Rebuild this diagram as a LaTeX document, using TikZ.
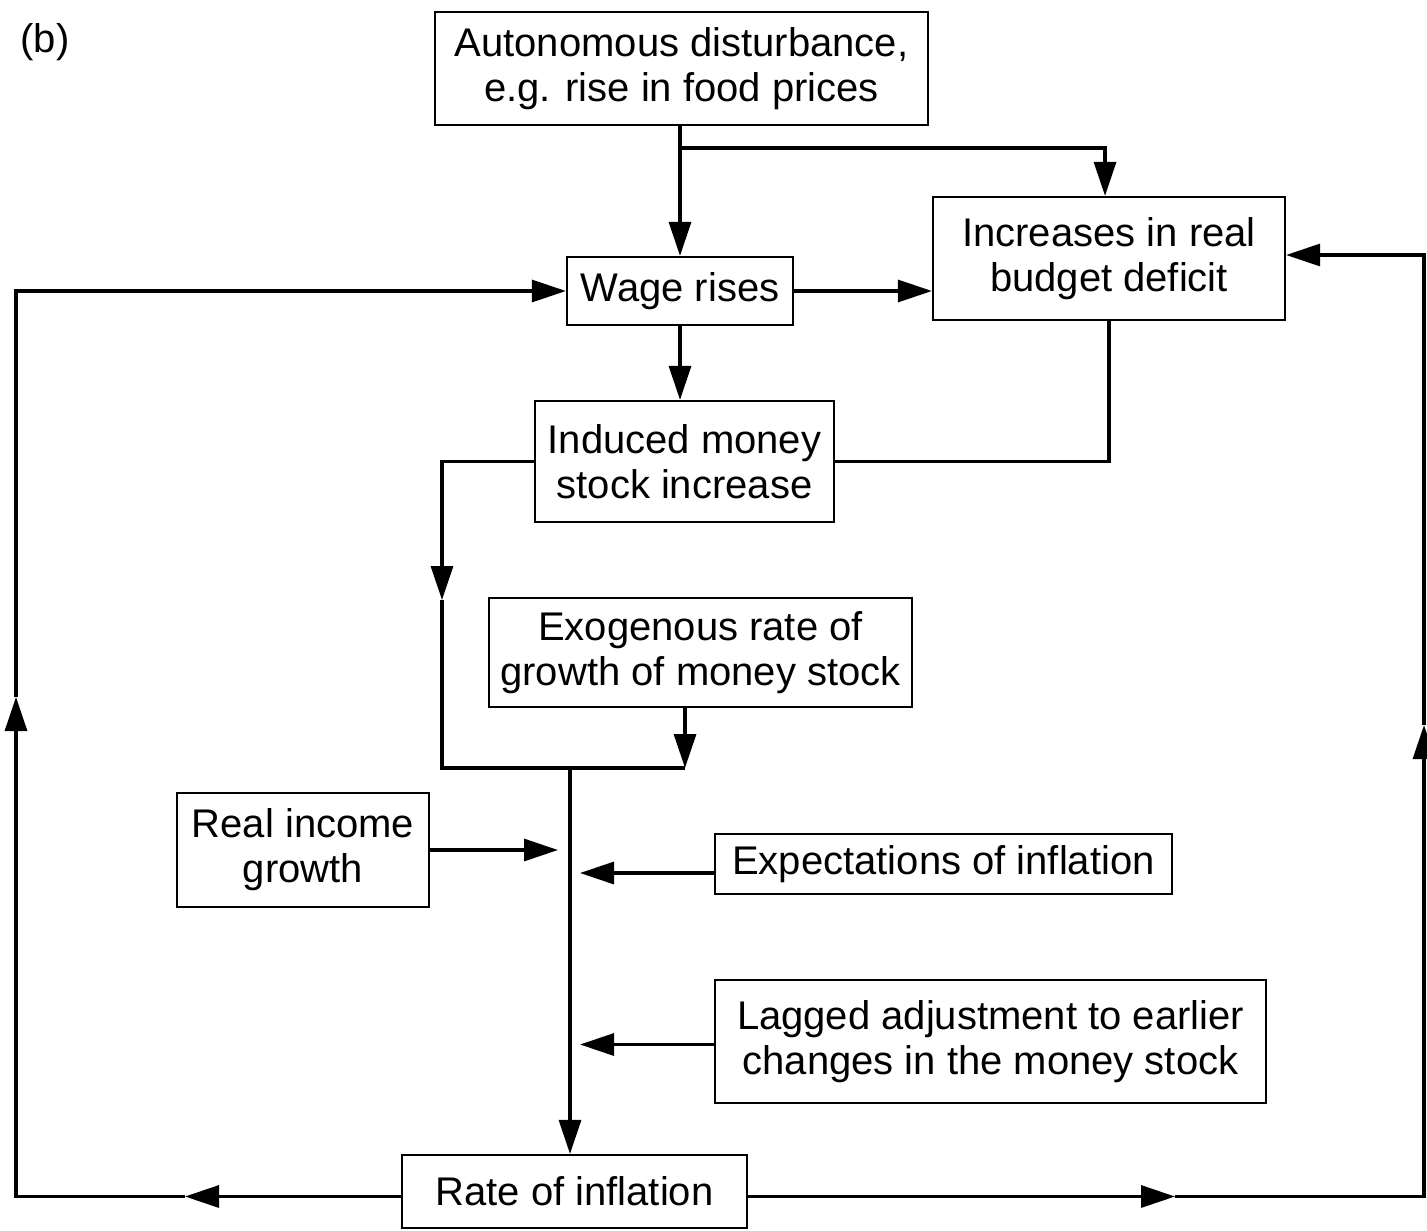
\documentclass[tikz,border=0pt]{standalone}
\usepackage{fontspec}
\setmainfont{Liberation Sans}
\usetikzlibrary{arrows.meta,calc}
\begin{document}
\begin{tikzpicture}[x=0.5pt,y=-0.5pt,
  box/.style={draw,line width=1.1pt,inner sep=0pt,align=center,font=\fontsize{20}{22.5}\selectfont},
  conn/.style={line width=1.6pt},
  arr/.style={conn,-{Triangle[length=17pt,width=11pt]}},
]
\useasboundingbox (0,0) rectangle (1427,1230);
\node[font=\fontsize{20}{22.5}\selectfont] (lbl) at (45,42) {(b)};
\node[box,minimum width=246.5pt,minimum height=56.5pt] (auto) at (681.5,68.5) {Autonomous disturbance,\\e.g. rise in food prices};
\node[box,minimum width=176pt,minimum height=61.5pt] (budget) at (1109,258.5) {Increases in real\\budget deficit};
\node[box,minimum width=113pt,minimum height=34pt] (wage) at (680,291) {Wage rises};
\node[box,minimum width=149.5pt,minimum height=60.5pt] (induced) at (684.5,461.5) {Induced money\\stock increase};
\node[box,minimum width=211.5pt,minimum height=54.5pt] (exog) at (700.5,652.5) {Exogenous rate of\\growth of money stock};
\node[box,minimum width=126pt,minimum height=57pt] (realinc) at (303,850) {Real income\\growth};
\node[box,minimum width=228.5pt,minimum height=30pt] (expect) at (943.5,864) {Expectations of inflation};
\node[box,minimum width=275.5pt,minimum height=61.5pt] (lagged) at (990.5,1041.5) {Lagged adjustment to earlier\\changes in the money stock};
\node[box,minimum width=172.5pt,minimum height=36.5pt] (rate) at (574.5,1191.5) {Rate of inflation};

% top
\draw[arr] (auto.south -| wage.north) -- (wage.north);
\coordinate (br) at (680,148);
\draw[arr] (br) -| ([xshift=-2pt]budget.north);
\draw[arr] (wage.east) -- (wage.east -| budget.west);
\draw[arr] (wage.south) -- (wage.south |- induced.north);
\draw[conn] (budget.south) |- (induced.east);

% junction
\coordinate (j1) at (442,768);
\coordinate (j2) at (685,768);
\coordinate (jt) at (570,768);
\coordinate (dm) at (442,600);
\draw[arr] (induced.west) -| (dm);
\draw[conn] (dm) -- (j1) -- (j2);
\draw[arr] ([xshift=-7.75pt]exog.south) -- (j2);
\draw[arr] (jt) -- (jt |- rate.north);
\draw[arr,shorten >=6pt] (realinc.east) -- (realinc.east -| jt);
\draw[arr,shorten >=5pt] ([yshift=-4.5pt]expect.west) -- ([yshift=-4.5pt]expect.west -| jt);
\draw[arr,shorten >=5pt] ([yshift=-1.5pt]lagged.west) -- ([yshift=-1.5pt]lagged.west -| jt);

% left loop
\coordinate (lb) at (185,1196.5);
\coordinate (lc1) at (16,1196.5);
\coordinate (lu) at (16,697);
\coordinate (lc2) at (16,291);
\draw[arr] ([yshift=-2.5pt]rate.west) -- (lb);
\draw[arr] (lb) -- (lc1) -- (lu);
\draw[arr] (lu) -- (lc2) -- (wage.west);

% right loop
\coordinate (rb) at (1175,1196.5);
\coordinate (rc1) at (1424,1196.5);
\coordinate (ru) at (1424,725);
\coordinate (rc2) at (1424,255);
\draw[arr] ([yshift=-2.5pt]rate.east) -- (rb);
\draw[arr] (rb) -- (rc1) -- (ru);
\draw[arr] (ru) -- (rc2) -- (rc2 -| budget.east);
\end{tikzpicture}
\end{document}
